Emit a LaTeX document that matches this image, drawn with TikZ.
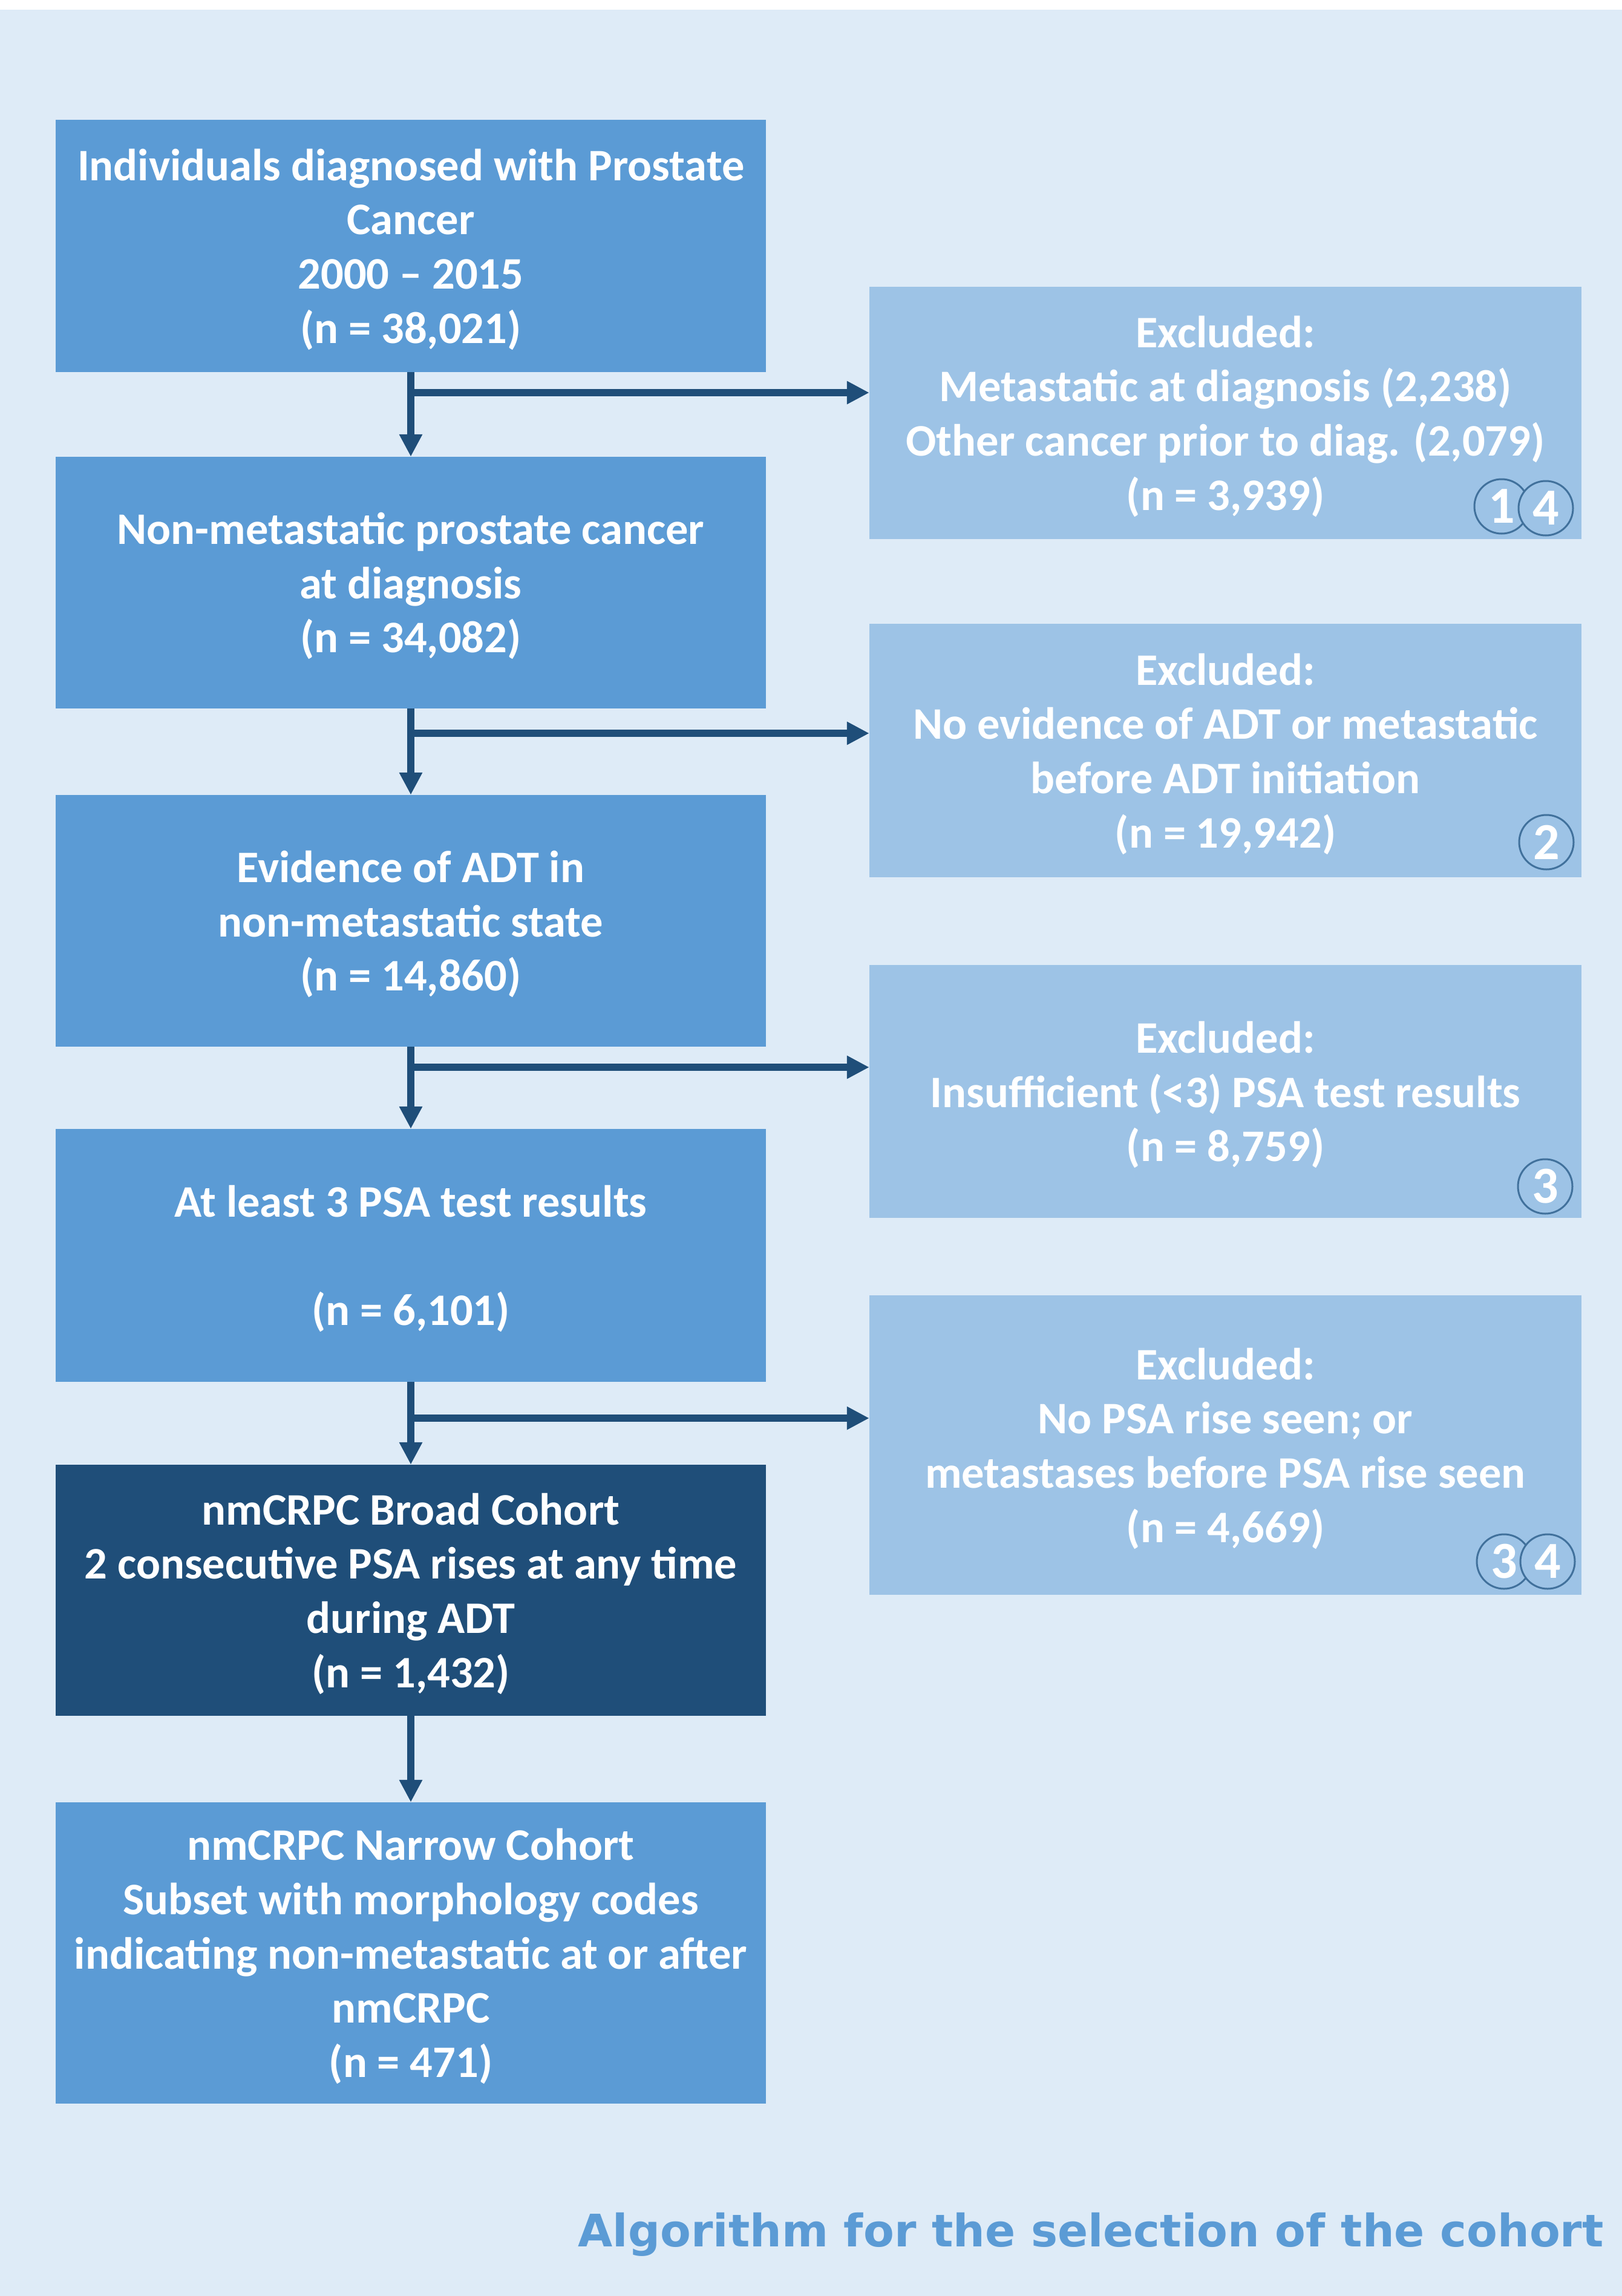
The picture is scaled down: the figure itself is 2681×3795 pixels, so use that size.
\documentclass[tikz,border=0pt]{standalone}
\usepackage{fontspec}
\setmainfont{Carlito}
\newfontfamily\titlefont{DejaVu Sans}
\usetikzlibrary{arrows.meta}
\definecolor{bgcol}{HTML}{DEEBF7}
\definecolor{midblue}{HTML}{5B9BD5}
\definecolor{lightblue}{HTML}{9DC3E6}
\definecolor{darkblue}{HTML}{1F4E79}
\definecolor{circstroke}{HTML}{41719C}
\tikzset{
  boxtext/.style={text=white, align=center, inner sep=0pt, text depth=0pt,
    font=\fontsize{74.5}{89.7}\selectfont\bfseries},
  mainbox/.style={boxtext, fill=midblue, minimum width=1174pt},
  darkbox/.style={boxtext, fill=darkblue, minimum width=1174pt},
  exclbox/.style={boxtext, fill=lightblue, minimum width=1177pt},
  numcirc/.style={circle, draw=circstroke, line width=3pt, fill=lightblue,
    minimum size=90pt, inner sep=0pt, text=white,
    font=\fontsize{86}{90}\selectfont\bfseries},
  flowarrow/.style={draw=darkblue, line width=12pt,
    -{Triangle[length=37pt,width=36pt]}},
  titletext/.style={text=midblue, inner sep=0pt,
    font=\titlefont\bfseries\fontsize{74}{88}\selectfont}
}
\begin{document}
\begin{tikzpicture}[x=1pt,y=-1pt]
\useasboundingbox (0,0) rectangle (2681,3795);
\fill[white] (0,0) rectangle (2681,3795);
\fill[bgcol] (0,16) rectangle (2681,3795);

% main column
\node[mainbox, minimum height=417pt] (b1) at (679,406.5)
  {Individuals diagnosed with Prostate\\Cancer\\2000 – 2015\\(n = 38,021)};
\node[mainbox, minimum height=416pt] (b2) at (679,963)
  {Non-metastatic prostate cancer\\at diagnosis\\(n = 34,082)};
\node[mainbox, minimum height=416pt] (b3) at (679,1522)
  {Evidence of ADT in\\non-metastatic state\\(n = 14,860)};
\node[mainbox, minimum height=418pt] (b4) at (679,2075)
  {At least 3 PSA test results\\[89.7pt](n = 6,101)};
\node[darkbox, minimum height=415pt] (b5) at (679,2628.5)
  {nmCRPC Broad Cohort\\2 consecutive PSA rises at any time\\during ADT\\(n = 1,432)};
\node[mainbox, minimum height=498pt] (b6) at (679,3228)
  {nmCRPC Narrow Cohort\\Subset with morphology codes\\indicating non-metastatic at or after\\nmCRPC\\(n = 471)};

% exclusion column
\node[exclbox, minimum height=417pt] (e1) at (2025.5,682.5)
  {Excluded:\\Metastatic at diagnosis (2,238)\\Other cancer prior to diag. (2,079)\\(n = 3,939)};
\node[exclbox, minimum height=419pt] (e2) at (2025.5,1240.5)
  {Excluded:\\No evidence of ADT or metastatic\\before ADT initiation\\(n = 19,942)};
\node[exclbox, minimum height=418pt] (e3) at (2025.5,1804)
  {Excluded:\\Insufficient (<3) PSA test results\\(n = 8,759)};
\node[exclbox, minimum height=495pt] (e4) at (2025.5,2388.5)
  {Excluded:\\No PSA rise seen; or\\metastases before PSA rise seen\\(n = 4,669)};

% numbered circles
\node[numcirc] (c1a) at (2482,837) {1};
\node[numcirc] (c1b) at (2555,840) {4};
\node[numcirc] (c2) at (2556,1392) {2};
\node[numcirc] (c3) at (2554,1961) {3};
\node[numcirc] (c4a) at (2486,2581) {3};
\node[numcirc] (c4b) at (2558,2581) {4};

% connectors
\coordinate (j1) at (679,649);
\coordinate (j2) at (679,1212);
\coordinate (j3) at (679,1764);
\coordinate (j4) at (679,2344);
\draw[flowarrow] (b1.south) -- (b2.north);
\draw[flowarrow] (b2.south) -- (b3.north);
\draw[flowarrow] (b3.south) -- (b4.north);
\draw[flowarrow] (b4.south) -- (b5.north);
\draw[flowarrow] (b5.south) -- (b6.north);
\draw[flowarrow] (j1) -- (j1 -| e1.west);
\draw[flowarrow] (j2) -- (j2 -| e2.west);
\draw[flowarrow] (j3) -- (j3 -| e3.west);
\draw[flowarrow] (j4) -- (j4 -| e4.west);

% title
\node[titletext, anchor=base east] (title) at (2651,3713)
  {Algorithm for the selection of the cohort};
\end{tikzpicture}
\end{document}
